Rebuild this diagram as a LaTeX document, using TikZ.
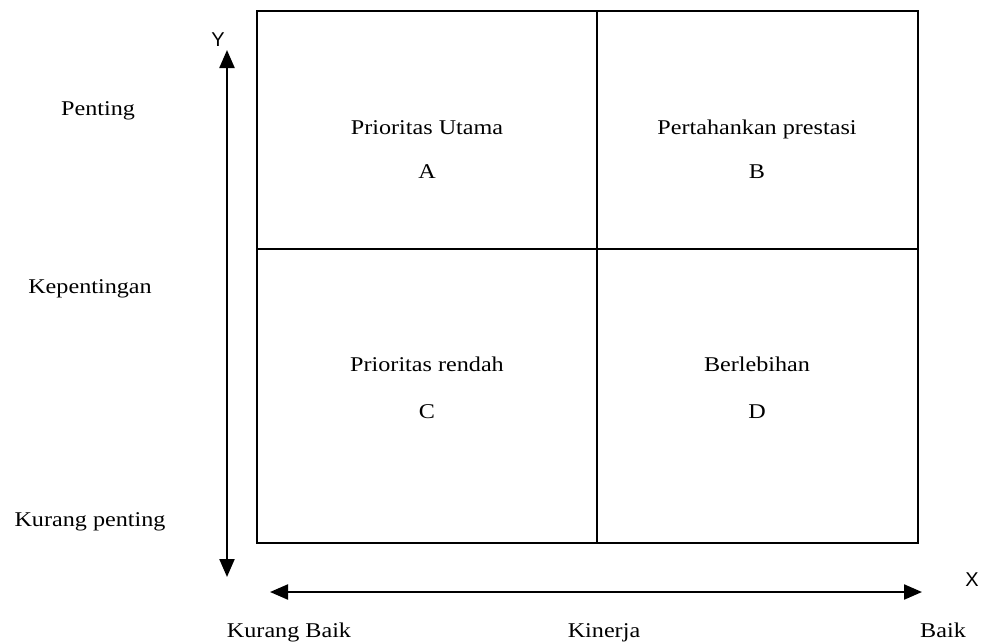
\documentclass[tikz,border=0pt]{standalone}
\usepackage{fontspec}
\setmainfont{Liberation Serif}[FakeStretch=1.15]
\newfontfamily\axisfont{Liberation Sans}
\usetikzlibrary{arrows.meta}

\begin{document}
\begin{tikzpicture}[x=1pt,y=-1pt,>={Triangle[width=15pt,length=18pt]},
	lbl/.style={font=\fontsize{21}{24}\selectfont,anchor=base},
	axlbl/.style={font=\axisfont\fontsize{20}{22}\selectfont,anchor=base},
	axis/.style={line width=2.2pt,<->}]

	\useasboundingbox (0,0) rectangle (982,643);

	% box corners
	\coordinate (TL) at (257,11);
	\coordinate (BR) at (918,543);
	\coordinate (TM) at (597,11);
	\coordinate (BM) at (597,543);
	\coordinate (ML) at (257,249);
	\coordinate (MR) at (918,249);

	% axis ends
	\coordinate (Ytop) at (227,50);
	\coordinate (Ybot) at (227,577);
	\coordinate (Xl) at (270,592);
	\coordinate (Xr) at (922,592);

	% quadrants
	\draw[line width=1.5pt] (TL) rectangle (BR);
	\draw[line width=1.5pt] (TM) -- (BM);
	\draw[line width=1.5pt] (ML) -- (MR);

	% axes
	\draw[axis] (Ybot) -- (Ytop);
	\draw[axis] (Xl) -- (Xr);

	\node[axlbl] (ylab) at (218,46) {Y};
	\node[axlbl] (xlab) at (972,586) {X};

	% quadrant texts (baselines)
	\node[lbl] (qa) at (427,134) {Prioritas Utama};
	\node[lbl] (qaL) at (427,178) {A};
	\node[lbl] (qb) at (757,134) {Pertahankan prestasi};
	\node[lbl] (qbL) at (757,178) {B};
	\node[lbl] (qc) at (427,371) {Prioritas rendah};
	\node[lbl] (qcL) at (427,418) {C};
	\node[lbl] (qd) at (757,371) {Berlebihan};
	\node[lbl] (qdL) at (757,418) {D};

	% y labels
	\node[lbl] (hi) at (98,115) {Penting};
	\node[lbl] (imp) at (90,293) {Kepentingan};
	\node[lbl] (lo) at (90,526) {Kurang penting};

	% x labels
	\node[lbl] (bad) at (289,637) {Kurang Baik};
	\node[lbl] (perf) at (604,637) {Kinerja};
	\node[lbl] (good) at (943,637) {Baik};

\end{tikzpicture}
\end{document}
